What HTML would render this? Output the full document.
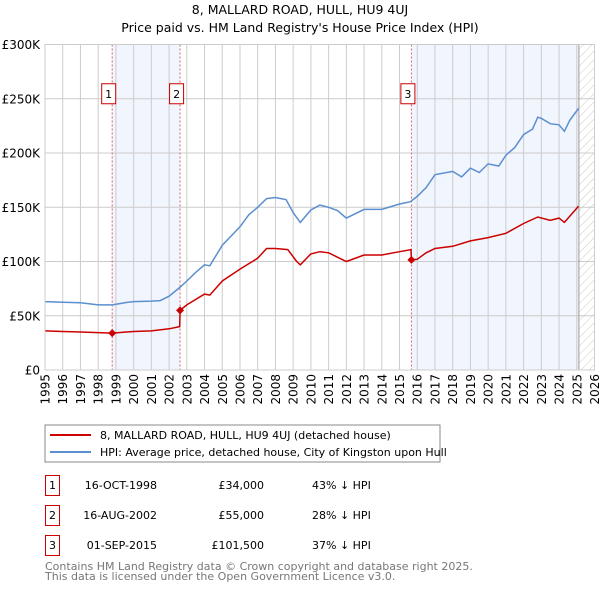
<!DOCTYPE html>
<html><head><meta charset="utf-8"><style>
body{margin:0;background:#fff}
svg text{font-family:"DejaVu Sans","Liberation Sans",sans-serif}
</style></head><body>
<svg id="c" width="600" height="590" xmlns="http://www.w3.org/2000/svg">
<text x="300" y="14" text-anchor="middle" font-size="12.5">8, MALLARD ROAD, HULL, HU9 4UJ</text>
<text x="300" y="32" text-anchor="middle" font-size="12.5">Price paid vs. HM Land Registry's House Price Index (HPI)</text>
<defs><pattern id="h" width="6" height="6" patternUnits="userSpaceOnUse" patternTransform="rotate(45)"><line x1="0" y1="0" x2="0" y2="6" stroke="#bbb" stroke-width="0.8"/></pattern></defs>
<g id="plot"></g>
<rect x="45" y="425" width="395" height="37" fill="#fff" stroke="#888"/>
<line x1="50" y1="435" x2="91" y2="435" stroke="#cc0000" stroke-width="2"/>
<text x="100" y="439" font-size="11">8, MALLARD ROAD, HULL, HU9 4UJ (detached house)</text>
<line x1="50" y1="452" x2="91" y2="452" stroke="#5b8fd0" stroke-width="2"/>
<text x="100" y="456" font-size="11">HPI: Average price, detached house, City of Kingston upon Hull</text>
<g font-size="11">
<rect x="45.5" y="475.5" width="14" height="20" fill="none" stroke="#cc0000"/><text x="52.5" y="489" text-anchor="middle">1</text>
<text x="157" y="489" text-anchor="end">16-OCT-1998</text><text x="264" y="489" text-anchor="end">£34,000</text><text x="312" y="489">43% ↓ HPI</text>
<rect x="45.5" y="505.5" width="14" height="20" fill="none" stroke="#cc0000"/><text x="52.5" y="519" text-anchor="middle">2</text>
<text x="157" y="519" text-anchor="end">16-AUG-2002</text><text x="264" y="519" text-anchor="end">£55,000</text><text x="312" y="519">28% ↓ HPI</text>
<rect x="45.5" y="535.5" width="14" height="20" fill="none" stroke="#cc0000"/><text x="52.5" y="549" text-anchor="middle">3</text>
<text x="157" y="549" text-anchor="end">01-SEP-2015</text><text x="264" y="549" text-anchor="end">£101,500</text><text x="312" y="549">37% ↓ HPI</text>
</g>
<text x="45" y="570" font-size="11" fill="#777">Contains HM Land Registry data © Crown copyright and database right 2025.</text>
<text x="45" y="580" font-size="11" fill="#777">This data is licensed under the Open Government Licence v3.0.</text>
</svg>
<script>
const hpiYears=[1995,1996,1997,1998,1998.8,1999.5,2000,2001,2001.5,2002,2002.6,2003,2003.5,2004,2004.3,2005,2006,2006.5,2007,2007.5,2008,2008.6,2009,2009.4,2010,2010.5,2011,2011.5,2012,2013,2014,2015,2015.6,2016,2016.5,2017,2018,2018.5,2019,2019.5,2020,2020.6,2021,2021.5,2022,2022.5,2022.8,2023,2023.5,2024,2024.3,2024.6,2025.1];
const hpiValues=[63,62.5,62,60,60,62,63,63.5,64,68,76,82,90,97,96,115,132,143,150,158,159,157,145,136,147.5,152,150,147,140,148,148,153,155,160,168,180,183,178,186,182,190,188,198,205,217,222,233,232,227,226,220,230,241];
const ppYears=[1995,1996,1997,1998,1998.8,2000,2001,2002,2002.6,2002.62,2003,2004,2004.3,2005,2006,2007,2007.5,2008,2008.7,2009.2,2009.4,2010,2010.5,2011,2012,2013,2014,2015,2015.65,2015.67,2016,2016.5,2017,2018,2019,2020,2021,2022,2022.8,2023.5,2024,2024.3,2025.1];
const ppValues=[36,35.5,35,34.5,34,35.5,36,38,40,55,60,70,69,82,93,103,112,112,111,100,97,107,109,108,100,106,106,109,111,101.5,102,108,112,114,119,122,126,135,141,138,140,136,151];
const sales=[{n:"1",year:1998.79,value:34},{n:"2",year:2002.62,value:55},{n:"3",year:2015.67,value:101.5}];
const yTicks=[0,50,100,150,200,250,300];
const yTickLabels=["£0","£50K","£100K","£150K","£200K","£250K","£300K"];
const xTicks=[1995,1996,1997,1998,1999,2000,2001,2002,2003,2004,2005,2006,2007,2008,2009,2010,2011,2012,2013,2014,2015,2016,2017,2018,2019,2020,2021,2022,2023,2024,2025,2026];
const dataEnd=2025.12;
const L=45,R=594.5,T=44.5,B=370,x0=1995,x1=2026,ymax=300;
const X=v=>L+(v-x0)/(x1-x0)*(R-L), Y=v=>B-v/ymax*(B-T);
const NS="http://www.w3.org/2000/svg", g=document.getElementById('plot');
function mk(t,a,p){const e=document.createElementNS(NS,t);for(const k in a)e.setAttribute(k,a[k]);(p||g).appendChild(e);return e;}
let e;
e=mk('rect',{x:X(sales[0].year),y:T,width:X(sales[1].year)-X(sales[0].year),height:B-T,fill:'#eef3fc',opacity:0.8});


e=mk('rect',{x:X(sales[2].year),y:T,width:X(dataEnd)-X(sales[2].year),height:B-T,fill:'#eef3fc',opacity:0.8});


e=mk('rect',{x:X(dataEnd),y:T,width:R-X(dataEnd),height:B-T,fill:'url(#h)'});


xTicks.forEach(t=>{
  e=mk('line',{x1:X(t),x2:X(t),y1:T,y2:B,stroke:'#ccc','stroke-width':1});
  
  
  e=mk('text',{x:0,y:0,'font-size':12,'text-anchor':'end',transform:`translate(${X(t)+4.5},${B+4}) rotate(-90)`});
  e.textContent=t;
  
  
});
yTicks.forEach((t,i)=>{
  e=mk('line',{x1:L,x2:R,y1:Y(t),y2:Y(t),stroke:'#ccc','stroke-width':1});
  
  
  e=mk('text',{x:L-5,y:Y(t)+4.5,'font-size':12,'text-anchor':'end'});
  e.textContent=yTickLabels[i];
  
  
});
e=mk('line',{x1:X(dataEnd),x2:X(dataEnd),y1:T,y2:B,stroke:'#999','stroke-width':1});


sales.forEach(s=>{
  e=mk('line',{x1:X(s.year),x2:X(s.year),y1:T,y2:B,stroke:'#e06060','stroke-width':1,'stroke-dasharray':'2,2'});
  
  
});
const path=(xs,vs)=>xs.map((x,i)=>(i?'L':'M')+X(x).toFixed(1)+','+Y(vs[i]).toFixed(1)).join('');
e=mk('path',{d:path(hpiYears,hpiValues),fill:'none',stroke:'#5b8fd0','stroke-width':1.5});


e=mk('path',{d:path(ppYears,ppValues),fill:'none',stroke:'#cc0000','stroke-width':1.5});


sales.forEach(s=>{
  const cx=X(s.year),cy=Y(s.value);
  e=mk('path',{d:`M${cx-4},${cy}L${cx},${cy-4}L${cx+4},${cy}L${cx},${cy+4}Z`,fill:'#cc0000'});
  
  
  e=mk('rect',{x:cx-10.5,y:Y(250)-15,width:14,height:20,fill:'#fff',stroke:'#cc0000'});
  
  
  e=mk('text',{x:cx-3.5,y:Y(250)-1,'font-size':11,'text-anchor':'middle'});
  e.textContent=s.n;
  
  
});
e=mk('rect',{x:L,y:T,width:R-L,height:B-T,fill:'none',stroke:'#ccc'});


</script>
</body></html>
